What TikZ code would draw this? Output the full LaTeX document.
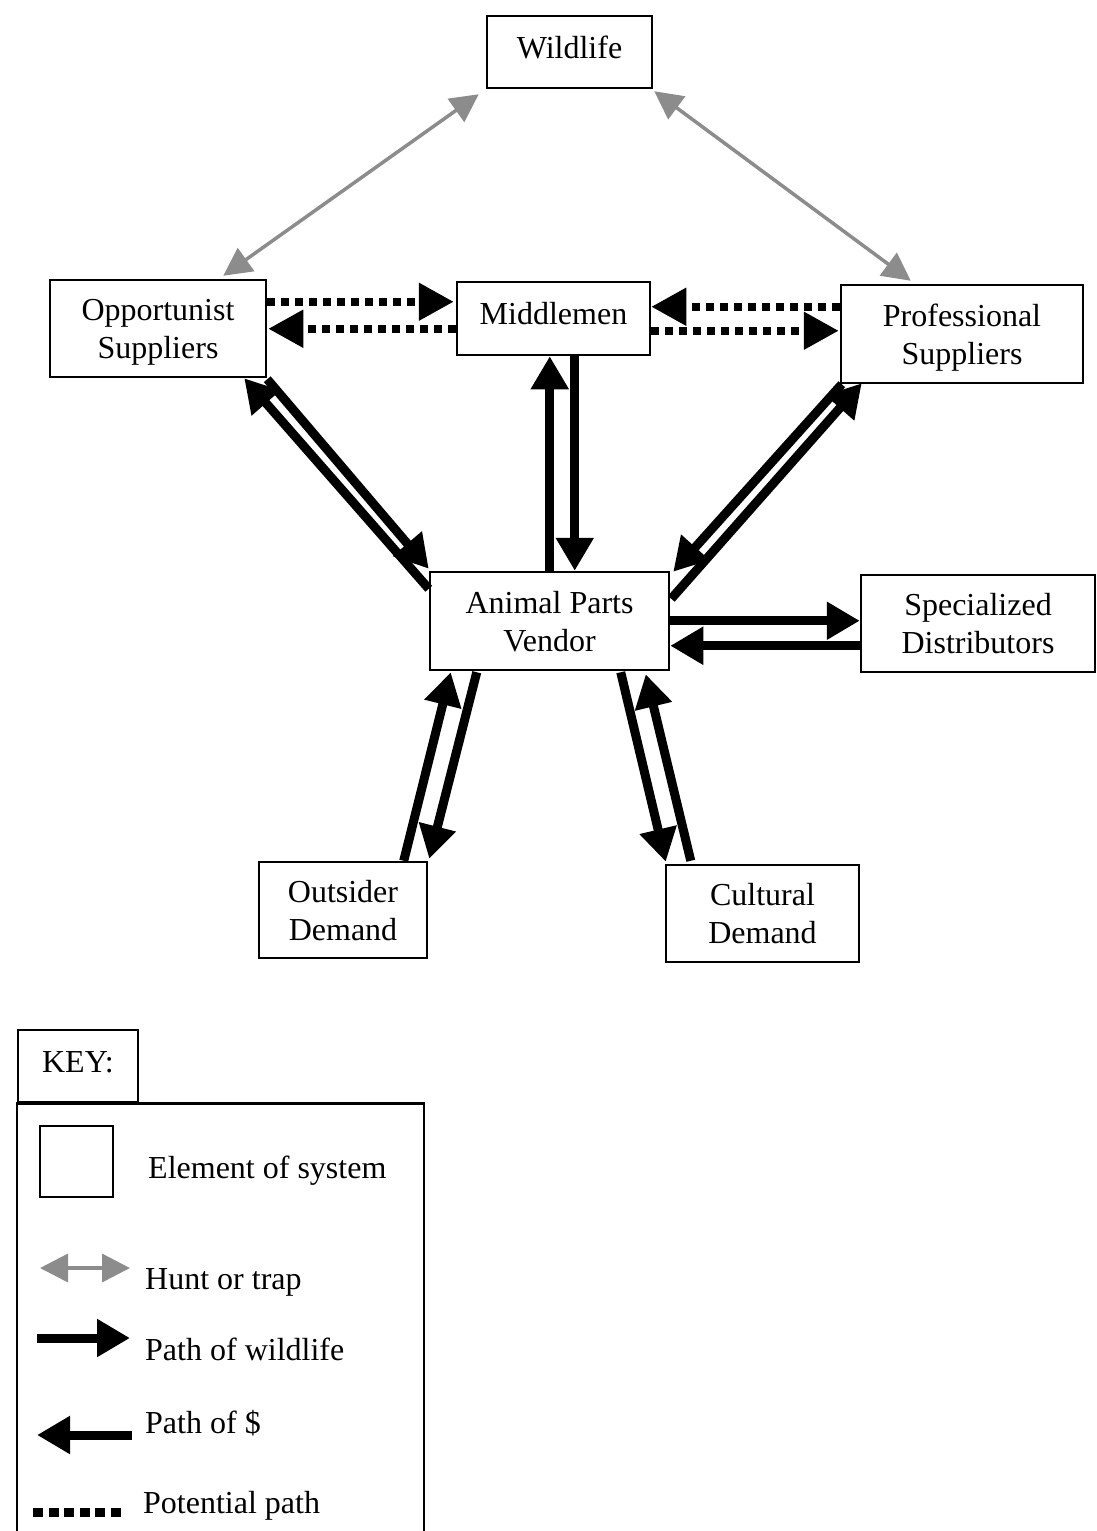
\documentclass[tikz,border=0pt]{standalone}
\usepackage{fontspec}
\setmainfont{Liberation Serif}
\usetikzlibrary{arrows.meta,calc}
\begin{document}
\begin{tikzpicture}[x=1pt,y=-1pt,
  elem/.style={draw, line width=2.5pt, inner sep=0pt, align=center,
    font=\fontsize{32}{38}\selectfont},
  one/.style={text depth=10pt},
  two/.style={text depth=0pt},
  wl/.style={line width=9pt, -{Triangle[length=33pt,width=36pt]}},
  pot/.style={line width=8pt, dash pattern=on 8pt off 6pt,
    -{Triangle[length=35pt,width=36pt]}},
  hunt/.style={draw=black!45, line width=3.5pt,
    {Triangle[length=28pt,width=28pt]}-{Triangle[length=28pt,width=28pt]}},
  lbl/.style={anchor=base west, inner sep=0pt, font=\fontsize{32}{38}\selectfont}
]
\useasboundingbox (0,0) rectangle (1097,1531);

% elements of the system
\node[elem, one, minimum width=165pt, minimum height=72pt] (wild) at (569.5,52) {Wildlife};
\node[elem, two, minimum width=216pt, minimum height=97pt] (opp) at (158,328.5) {Opportunist\\Suppliers};
\node[elem, one, minimum width=193pt, minimum height=73pt] (mid) at (553.5,318.5) {Middlemen};
\node[elem, two, minimum width=242pt, minimum height=98pt] (prof) at (962,334) {Professional\\Suppliers};
\node[elem, two, minimum width=239pt, minimum height=98pt] (ven) at (549.5,621) {Animal Parts\\Vendor};
\node[elem, two, minimum width=234pt, minimum height=97pt] (spec) at (978,623.5) {Specialized\\Distributors};
\node[elem, two, minimum width=168pt, minimum height=96pt] (out) at (343,910) {Outsider\\Demand};
\node[elem, two, minimum width=193pt, minimum height=97pt] (cul) at (762.5,913.5) {Cultural\\Demand};

% hunting and trapping
\draw[hunt] ($(wild.south west)+(-7,5)$) -- ($(opp.north east)+(-44,-3)$);
\draw[hunt] ($(wild.south east)+(1,2)$) -- ($(prof.north west)+(71,-3)$);

% potential paths
\draw[pot] ($(opp.north east)+(0,23)$) -- ($(mid.north west)+(-2,21)$);
\draw[pot] ($(mid.north west)+(0,48)$) -- ($(opp.north east)+(1,50)$);
\draw[pot] ($(prof.north west)+(0,23)$) -- ($(mid.north east)+(0,26)$);
\draw[pot] ($(mid.north east)+(0,50)$) -- ($(prof.north west)+(-1,47)$);

% suppliers and vendor
\draw[wl] ($(ven.north west)+(0,18)$) -- ($(opp.south east)+(-23,0)$);
\draw[wl] ($(opp.south east)+(0,1)$) -- ($(ven.north west)+(0,-2)$);
\draw[wl] ($(ven.north west)+(121,0)$) -- ($(mid.south west)+(94,0)$);
\draw[wl] ($(mid.south west)+(119,0)$) -- ($(ven.north west)+(146,0)$);
\draw[wl] ($(ven.north east)+(1,28)$) -- ($(prof.south west)+(22,-1)$);
\draw[wl] ($(prof.south west)+(2,0)$) -- ($(ven.north east)+(3,1)$);

% vendor and distributors
\draw[wl] ($(ven.north east)+(0,50)$) -- ($(spec.north west)+(0,47)$);
\draw[wl] ($(spec.north west)+(0,72)$) -- ($(ven.north east)+(0,75)$);

% vendor and demand
\draw[wl] ($(out.north west)+(146,0)$) -- ($(ven.south west)+(22,1)$);
\draw[wl] ($(ven.south west)+(48,1)$) -- ($(out.north east)+(1,-2)$);
\draw[wl] ($(ven.south west)+(192,1)$) -- ($(cul.north west)+(1,-2)$);
\draw[wl] ($(cul.north west)+(26,-3)$) -- ($(ven.south west)+(217,3)$);

% key
\node[elem, text depth=8pt, minimum width=120pt, minimum height=72pt] (keytab) at (78,1066) {KEY:};
\draw[line width=2.5pt] ($(keytab.south west)+(0,460)$) -- (keytab.south west)
  -- ++(407,0) -- ++(0,460);
\node[elem, minimum width=73pt, minimum height=71pt] (sq) at (76.5,1161.5) {};
\node[lbl] (t1) at (148,1178) {Element of system};

\coordinate (h1) at (40,1268);
\coordinate (h2) at (130,1268);
\draw[hunt] (h1) -- (h2);
\node[lbl] (t2) at (145,1289) {Hunt or trap};

\coordinate (w1) at (37,1338);
\coordinate (w2) at (130,1338);
\draw[wl] (w1) -- (w2);
\node[lbl] (t3) at (145,1360) {Path of wildlife};

\coordinate (d1) at (132,1435);
\coordinate (d2) at (37,1435);
\draw[wl] (d1) -- (d2);
\node[lbl] (t4) at (145,1433) {Path of \$};

\coordinate (p1) at (33,1512);
\coordinate (p2) at (121,1512);
\draw[line width=9pt, dash pattern=on 10pt off 5.5pt] (p1) -- (p2);
\node[lbl] (t5) at (143,1513) {Potential path};
\end{tikzpicture}
\end{document}
